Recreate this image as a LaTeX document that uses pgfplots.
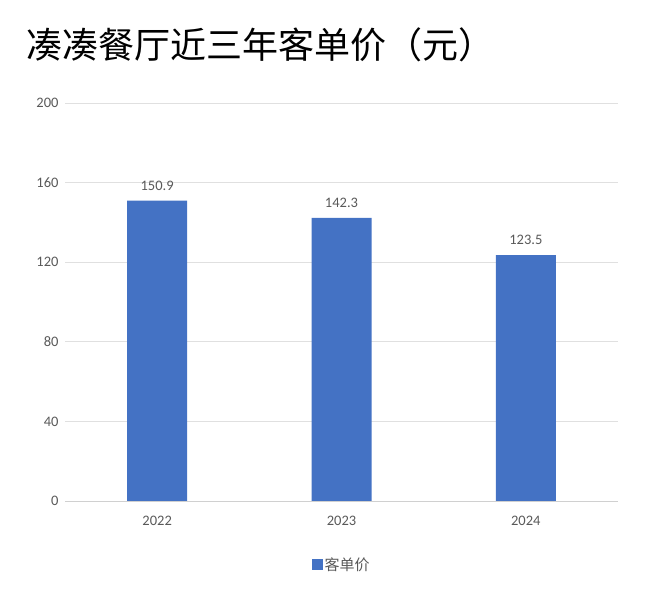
\documentclass[border=0pt]{standalone}
\usepackage{fontspec}
\setmainfont{Carlito}
\newfontfamily\cjk{Noto Sans CJK SC}
\usepackage{pgfplots}
\pgfplotsset{compat=1.18}
\definecolor{barblue}{HTML}{4472C4}
\definecolor{gridgray}{HTML}{E0E0E0}
\definecolor{axisgray}{HTML}{D0D0D0}
\definecolor{ticktext}{HTML}{595959}

\begin{document}
\begin{tikzpicture}
\path[use as bounding box] (0pt,0pt) rectangle (660pt,608pt);
\node[anchor=west, font=\cjk\fontsize{36}{42}\selectfont, inner sep=0pt] at (26pt,563pt) {凑凑餐厅近三年客单价（元）};
\begin{axis}[
    at={(65pt,107pt)}, anchor=south west,
    scale only axis,
    width=553pt, height=398pt,
    ybar, bar width=60pt,
    xmin=-0.5, xmax=2.5,
    ymin=0, ymax=200,
    ytick={0,40,80,120,160,200},
    xtick={0,1,2},
    xticklabels={2022,2023,2024},
    axis line style={draw=none},
    major tick length=0pt,
    ymajorgrids, grid style={gridgray, line width=0.8pt},
    tick label style={font=\fontsize{14.5}{16}\selectfont, text=ticktext},
    /pgf/number format/assume math mode=true,
    yticklabel style={xshift=-3pt},
    xticklabel style={yshift=-12pt},
    nodes near coords,
    nodes near coords style={font=\fontsize{14.5}{16}\selectfont, text=ticktext, yshift=7pt, /pgf/number format/fixed, /pgf/number format/precision=1, /pgf/number format/fixed zerofill},
    legend style={at={(0.5,-0.16)}, anchor=center, draw=none, font=\cjk\fontsize{15}{17}\selectfont, text=ticktext, inner sep=0pt, cells={anchor=west}},
    legend image code/.code={\fill[barblue] (0pt,-5.5pt) rectangle (11pt,5.5pt);},
    clip=false,
]
\addplot[fill=barblue, draw=none] coordinates {(0,150.9) (1,142.3) (2,123.5)};
\addlegendentry{客单价}
\draw[axisgray, line width=1pt] (axis cs:-0.5,0) -- (axis cs:2.5,0);
\end{axis}
\end{tikzpicture}
\end{document}
